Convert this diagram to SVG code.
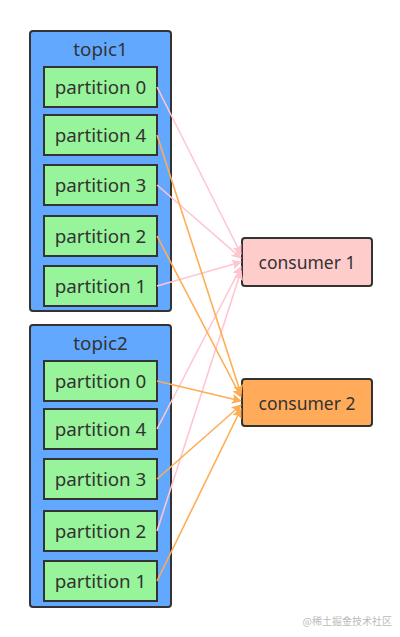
<svg xmlns="http://www.w3.org/2000/svg" width="400" height="637" viewBox="0 0 400 637">
<style>
  .topic{fill:#62a8ff;stroke:#333;stroke-width:2}
  .part{fill:#98f49a;stroke:#333;stroke-width:2}
  .t{font-family:"Noto Sans","Open Sans",sans-serif;font-size:18.8px;fill:#333;text-anchor:middle;dominant-baseline:central}
  .pink{stroke:#ffc6d0;stroke-width:1.6;fill:none}
  .orange{stroke:#ffad55;stroke-width:1.6;fill:none}
  .wm{font-family:"Noto Sans CJK SC",sans-serif;font-size:10px;fill:#bbb}
</style>
<defs>
  <marker id="ap" viewBox="0 0 10 10" refX="9" refY="5" markerWidth="11" markerHeight="10" orient="auto" markerUnits="userSpaceOnUse">
    <path d="M0,0 L10,5 L0,10 L2,5 Z" fill="#ffc6d0"/>
  </marker>
  <marker id="ao" viewBox="0 0 10 10" refX="9" refY="5" markerWidth="11" markerHeight="10" orient="auto" markerUnits="userSpaceOnUse">
    <path d="M0,0 L10,5 L0,10 L2,5 Z" fill="#ffad55"/>
  </marker>
</defs>
<rect width="400" height="637" fill="#fff"/>
<g id="topic1">
  <rect class="topic" x="30" y="31" width="141" height="280" rx="3"/>
  <text class="t" x="100.5" y="49">topic1</text>
</g>
<g id="t1p0"><rect class="part" x="44" y="67" width="113" height="40"/><text class="t" x="100.5" y="87">partition 0</text></g>
<g id="t1p4"><rect class="part" x="44" y="115" width="113" height="40"/><text class="t" x="100.5" y="135">partition 4</text></g>
<g id="t1p3"><rect class="part" x="44" y="165" width="113" height="40"/><text class="t" x="100.5" y="185">partition 3</text></g>
<g id="t1p2"><rect class="part" x="44" y="216" width="113" height="40"/><text class="t" x="100.5" y="236">partition 2</text></g>
<g id="t1p1"><rect class="part" x="44" y="266" width="113" height="40"/><text class="t" x="100.5" y="286">partition 1</text></g>
<g id="topic2">
  <rect class="topic" x="30" y="325" width="141" height="282" rx="3"/>
  <text class="t" x="100.5" y="343">topic2</text>
</g>
<g id="t2p0"><rect class="part" x="44" y="361" width="113" height="40"/><text class="t" x="100.5" y="381">partition 0</text></g>
<g id="t2p4"><rect class="part" x="44" y="409" width="113" height="40"/><text class="t" x="100.5" y="429">partition 4</text></g>
<g id="t2p3"><rect class="part" x="44" y="459" width="113" height="40"/><text class="t" x="100.5" y="479">partition 3</text></g>
<g id="t2p2"><rect class="part" x="44" y="511" width="113" height="40"/><text class="t" x="100.5" y="531">partition 2</text></g>
<g id="t2p1"><rect class="part" x="44" y="561" width="113" height="40"/><text class="t" x="100.5" y="581">partition 1</text></g>
<g id="consumer1">
  <rect x="242" y="238" width="130" height="48" rx="3" fill="#ffcccc" stroke="#333" stroke-width="2"/>
  <text class="t" x="307" y="262" style="font-size:17.5px">consumer 1</text>
</g>
<g id="consumer2">
  <rect x="242" y="379" width="130" height="47" rx="3" fill="#ffab5a" stroke="#333" stroke-width="2"/>
  <text class="t" x="307" y="403" style="font-size:17.5px">consumer 2</text>
</g>
<g id="connectors">
  <line class="pink" x1="157" y1="87" x2="241" y2="254" marker-end="url(#ap)"/>
  <line class="pink" x1="157" y1="185" x2="241" y2="258" marker-end="url(#ap)"/>
  <line class="pink" x1="157" y1="286" x2="241" y2="262" marker-end="url(#ap)"/>
  <line class="pink" x1="157" y1="429" x2="241" y2="267" marker-end="url(#ap)"/>
  <line class="pink" x1="157" y1="531" x2="241" y2="271" marker-end="url(#ap)"/>
  <line class="orange" x1="157" y1="135" x2="241" y2="394" marker-end="url(#ao)"/>
  <line class="orange" x1="157" y1="236" x2="241" y2="397" marker-end="url(#ao)"/>
  <line class="orange" x1="157" y1="381" x2="241" y2="401" marker-end="url(#ao)"/>
  <line class="orange" x1="157" y1="479" x2="241" y2="405" marker-end="url(#ao)"/>
  <line class="orange" x1="157" y1="581" x2="241" y2="409" marker-end="url(#ao)"/>
</g>
<text class="wm" x="392" y="625" text-anchor="end">@稀土掘金技术社区</text>
</svg>
